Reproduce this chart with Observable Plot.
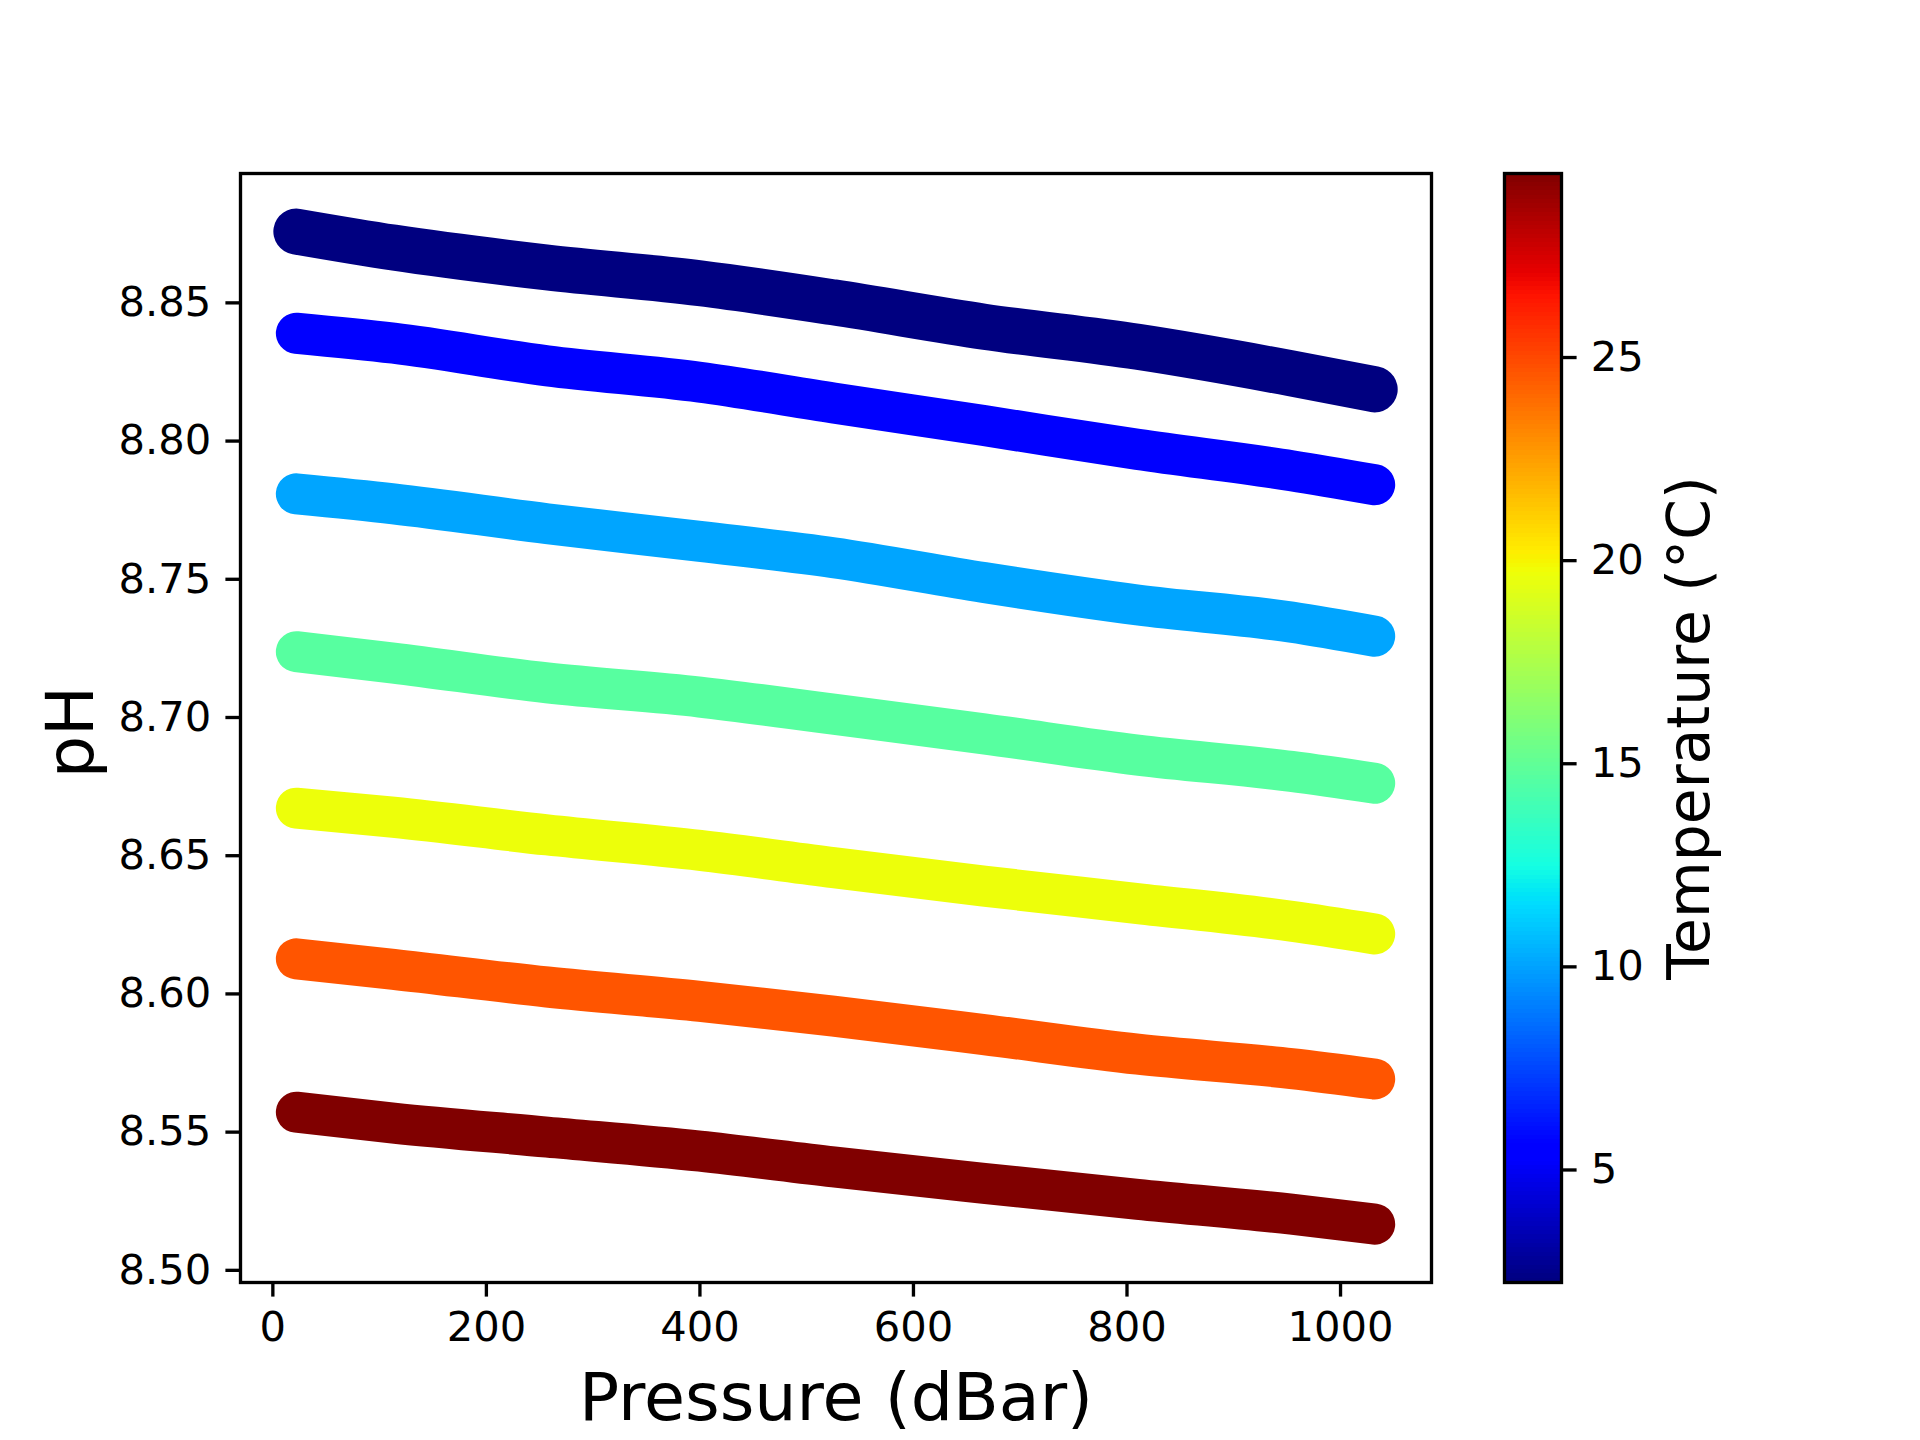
<!DOCTYPE html>
<html>
<head>
<meta charset="utf-8">
<script src="https://cdn.jsdelivr.net/npm/d3@7"></script>
<script src="https://cdn.jsdelivr.net/npm/@observablehq/plot@0.6"></script>
<style>
  body { margin: 0; background: #fff; }
  #chart { position: relative; width: 1920px; height: 1440px; background: #fff; }
  #chart svg { position: absolute; left: 0; top: 0; }
</style>
</head>
<body>
<div id="chart"></div>
<script>
// ---- data ----
const pressure = [22, 113, 257, 400, 525, 666, 810, 954, 1032];          // dBar
const temperatures = [2.23, 5.4, 10.06, 14.68, 19.65, 24.62, 29.53];     // °C per profile
const ph_t1 = [8.8758, 8.8700, 8.8628, 8.8571, 8.8502, 8.8414, 8.8341, 8.8245, 8.8187];
const ph_t2 = [8.8390, 8.8354, 8.8272, 8.8213, 8.8138, 8.8056, 8.7970, 8.7893, 8.7842];
const ph_t3 = [8.7809, 8.7773, 8.7701, 8.7637, 8.7578, 8.7488, 8.7407, 8.7345, 8.7294];
const ph_t4 = [8.7238, 8.7197, 8.7125, 8.7074, 8.7012, 8.6941, 8.6864, 8.6805, 8.6762];
const ph_t5 = [8.6672, 8.6639, 8.6575, 8.6519, 8.6457, 8.6390, 8.6327, 8.6263, 8.6217];
const ph_t6 = [8.6127, 8.6089, 8.6025, 8.5973, 8.5920, 8.5853, 8.5782, 8.5730, 8.5692];
const ph_t7 = [8.5572, 8.5533, 8.5482, 8.5431, 8.5374, 8.5315, 8.5257, 8.5203, 8.5167];
const xTicks = [0, 200, 400, 600, 800, 1000];
const yTicks = [8.50, 8.55, 8.60, 8.65, 8.70, 8.75, 8.80, 8.85];
const cbTicks = [5, 10, 15, 20, 25];

const phSeries = [ph_t1, ph_t2, ph_t3, ph_t4, ph_t5, ph_t6, ph_t7];
const tMin = d3.min(temperatures), tMax = d3.max(temperatures);

// table built from the arrays
const rows = [];
phSeries.forEach((ser, b) => ser.forEach((v, i) => rows.push({band: b, temp: temperatures[b], p: pressure[i], ph: v})));

// matplotlib "jet" colormap
const JR = [[0,0],[0.35,0],[0.66,1],[0.89,1],[1,0.5]];
const JG = [[0,0],[0.125,0],[0.375,1],[0.64,1],[0.91,0],[1,0]];
const JB = [[0,0.5],[0.11,1],[0.34,1],[0.65,0],[1,0]];
function seg(pts, t) {
  for (let i = 1; i < pts.length; i++) {
    if (t <= pts[i][0]) {
      const [x0, y0] = pts[i-1], [x1, y1] = pts[i];
      return y0 + (y1 - y0) * (t - x0) / (x1 - x0);
    }
  }
  return pts[pts.length-1][1];
}
function jet(t) {
  t = Math.max(0, Math.min(1, t));
  const c = v => Math.round(v * 255);
  return `rgb(${c(seg(JR,t))},${c(seg(JG,t))},${c(seg(JB,t))})`;
}

const font = "DejaVu Sans";
const tickFs = 41.67;
const colorOpt = {type: "linear", domain: [tMin, tMax], interpolate: jet};

const lineMarks = phSeries.map((ser, b) =>
  Plot.line(rows.filter(r => r.band === b), {
    x: "p", y: "ph", stroke: "temp",
    strokeWidth: b === 0 ? 46 : 41,
    strokeLinecap: "round", strokeLinejoin: "round", curve: "monotone-x"
  })
);

const main = Plot.plot({
  width: 1920, height: 1440,
  marginLeft: 240, marginRight: 489, marginTop: 173, marginBottom: 158,
  style: {fontFamily: font, fontSize: tickFs + "px", color: "black", background: "white", overflow: "visible"},
  x: {domain: [-30.3, 1085.2]},
  y: {domain: [8.4956, 8.8968]},
  color: colorOpt,
  marks: [
    ...lineMarks,
    Plot.axisX({ticks: xTicks, tickSize: 14.6, tickPadding: 14.6, strokeWidth: 3.33, label: null, fontSize: tickFs, tickFormat: d => String(d)}),
    Plot.axisY({ticks: yTicks, tickSize: 14.6, tickPadding: 14.6, strokeWidth: 3.33, label: null, fontSize: tickFs, tickFormat: d3.format(".2f")}),
    Plot.frame({stroke: "black", strokeWidth: 3.33}),
    Plot.text(["Pressure (dBar)"], {text: d => d, frameAnchor: "bottom", dy: 137, lineAnchor: "bottom", textAnchor: "middle", fontSize: 66.67, fill: "black"}),
    Plot.text(["pH"], {text: d => d, frameAnchor: "left", dx: -148, dy: 4, rotate: -90, lineAnchor: "bottom", textAnchor: "middle", fontSize: 66.67, fill: "black"})
  ]
});

const nSteps = 256;
const step = (tMax - tMin) / nSteps;
const cbar = Plot.plot({
  width: 1920, height: 1440,
  marginLeft: 1504, marginRight: 359, marginTop: 173, marginBottom: 158,
  style: {fontFamily: font, fontSize: tickFs + "px", color: "black", background: "transparent", overflow: "visible"},
  x: {domain: [0, 1], axis: null},
  y: {domain: [tMin, tMax]},
  color: colorOpt,
  marks: [
    Plot.rect(d3.range(nSteps), {
      x1: 0, x2: 1,
      y1: i => tMin + i * step, y2: i => tMin + (i + 1) * step,
      fill: i => tMin + (i + 0.5) * step, shapeRendering: "crispEdges"
    }),
    Plot.axisY({anchor: "right", ticks: cbTicks, tickSize: 14.6, tickPadding: 14.6, strokeWidth: 3.33, label: null, fontSize: tickFs, tickFormat: d => String(d)}),
    Plot.frame({stroke: "black", strokeWidth: 3.33}),
    Plot.text(["Temperature (°C)"], {text: d => d, frameAnchor: "right", dx: 147.5, rotate: -90, lineAnchor: "bottom", textAnchor: "middle", fontSize: 58.33, fill: "black"})
  ]
});

const host = document.getElementById("chart");
host.appendChild(main);
host.appendChild(cbar);
</script>
</body>
</html>
